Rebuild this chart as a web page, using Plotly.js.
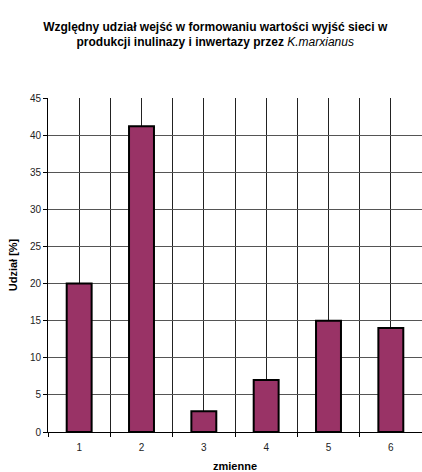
<!DOCTYPE html>
<html>
<head>
<meta charset="utf-8">
<script src="https://cdn.plot.ly/plotly-3.0.1.min.js"></script>
<style>html,body{margin:0;padding:0;background:#fff;}#chart{width:422px;height:472px;}</style>
</head>
<body>
<div id="chart"></div>
<script>
const categories = [1, 2, 3, 4, 5, 6];
const tickLabels = ['1', '2', '3', '4', '5', '6'];
const udzial = [20.0, 41.2, 2.8, 7.0, 15.0, 14.0];
const boundaries = [0.5, 1.5, 2.5, 3.5, 4.5, 5.5, 6.5];

const trace = {
  type: 'bar',
  x: categories,
  y: udzial,
  width: 0.4,
  marker: {color: '#993366', line: {color: '#000000', width: 2}},
  hoverinfo: 'x+y'
};

const layout = {
  width: 422, height: 472,
  paper_bgcolor: '#ffffff', plot_bgcolor: '#ffffff',
  margin: {l: 48, r: 0, t: 98, b: 40},
  font: {family: 'Liberation Sans, Arial, sans-serif', size: 10, color: '#000'},
  showlegend: false,
  title: {
    text: '<b>Względny udział wejść w formowaniu wartości wyjść sieci w<br>produkcji inulinazy i inwertazy przez </b><i>K.marxianus</i>',
    font: {family: 'Liberation Sans, Arial, sans-serif', size: 12, color: '#000'},
    x: 0.51, xanchor: 'center', y: 0.935, yanchor: 'top'
  },
  xaxis: {
    range: [0.5, 6.5],
    tickvals: categories, ticktext: tickLabels,
    ticks: '', showgrid: true, gridcolor: '#222', gridwidth: 1,
    showline: true, linecolor: '#000', linewidth: 1,
    zeroline: false,
    ticklabelstandoff: 6,
    tickfont: {size: 10, color: '#222'},
    minor: {tickvals: boundaries, showgrid: true, gridcolor: '#222', gridwidth: 1, ticks: 'outside', ticklen: 4, tickcolor: '#000'},
    title: {text: '<b>zmienne</b>', font: {size: 11, color: '#000'}, standoff: 10}
  },
  yaxis: {
    range: [0, 45], dtick: 5, tick0: 0,
    ticks: 'outside', ticklen: 4, tickcolor: '#000',
    showgrid: true, gridcolor: '#555', gridwidth: 1,
    showline: true, linecolor: '#000', linewidth: 1,
    zeroline: false,
    tickfont: {size: 10, color: '#222'},
    title: {text: '<b>Udział [%]</b>', font: {size: 11, color: '#000'}, standoff: 10}
  },
  bargap: 0.6
};

Plotly.newPlot('chart', [trace], layout, {displayModeBar: false, staticPlot: true});
</script>
</body>
</html>
